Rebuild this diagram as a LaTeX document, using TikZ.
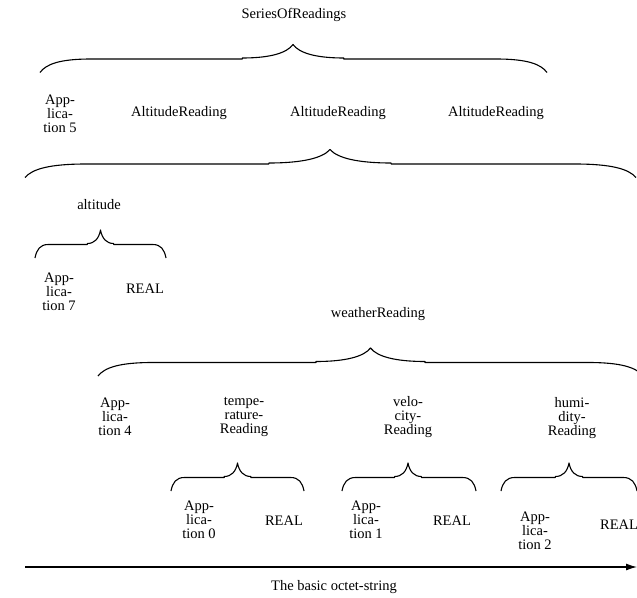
\documentclass[tikz,border=0pt]{standalone}
\usepackage{fontspec}
\setmainfont{Liberation Serif}
\usetikzlibrary{arrows.meta}
\tikzset{
  lbl/.style={inner sep=0pt, align=center, font=\fontsize{14.5}{14}\selectfont},
  bracestyle/.style={line width=1.1pt, line join=round},
  basearrow/.style={line width=1.2pt, -{Latex[length=11pt,width=7pt]}}
}
\newcommand{\drawmybrace}[4]{%
  \pgfmathsetmacro{\bw}{0.1*(#2-#1)}%
  \draw[bracestyle] (#1,#4+13.5)
    .. controls ({#1+0.12*\bw},#4+5) and ({#1+0.4*\bw},#4) .. ({#1+\bw},#4)
    -- ({#3-\bw},#4) -- ({#3-\bw},#4-1)
    .. controls ({#3-0.45*\bw},#4-1) and ({#3-0.12*\bw},#4-6) .. (#3,#4-14.5)
    .. controls ({#3+0.12*\bw},#4-6) and ({#3+0.45*\bw},#4-1) .. ({#3+\bw},#4-1)
    -- ({#3+\bw},#4) -- ({#2-\bw},#4)
    .. controls ({#2-0.4*\bw},#4) and ({#2-0.12*\bw},#4+5) .. (#2,#4+13.5);%
}
\begin{document}
\begin{tikzpicture}[x=1pt,y=-1pt]
\useasboundingbox (0,0) rectangle (637,597);
\clip (0,0) rectangle (637,597);
% braces
\drawmybrace{40}{547}{293}{59}
\drawmybrace{25}{636}{330}{164}
\drawmybrace{35}{166}{100.5}{244.5}
\drawmybrace{98}{643}{370.5}{362.5}
\drawmybrace{171}{304}{237.5}{477.5}
\drawmybrace{342}{476}{408}{477.5}
\drawmybrace{501}{637}{569}{477.5}
% labels
\node[lbl] (sor) at (294,15) {SeriesOfReadings};
\node[lbl] (app5) at (60,113.5) {App-\\lica-\\tion 5};
\node[lbl] (alt1) at (179,113) {AltitudeReading};
\node[lbl] (alt2) at (338,113) {AltitudeReading};
\node[lbl] (alt3) at (496,113) {AltitudeReading};
\node[lbl] (altitude) at (99,205) {altitude};
\node[lbl] (app7) at (59,292) {App-\\lica-\\tion 7};
\node[lbl] (real7) at (145,289) {REAL};
\node[lbl] (weather) at (378,314) {weatherReading};
\node[lbl] (app4) at (115,416.5) {App-\\lica-\\tion 4};
\node[lbl] (temp) at (244,417) {tempe-\\rature-\\Reading};
\node[lbl] (velo) at (408,417) {velo-\\city-\\Reading};
\node[lbl] (humi) at (572,418) {humi-\\dity-\\Reading};
\node[lbl] (app0) at (199,520) {App-\\lica-\\tion 0};
\node[lbl] (real0) at (284,521) {REAL};
\node[lbl] (app1) at (366,520) {App-\\lica-\\tion 1};
\node[lbl] (real1) at (452,521) {REAL};
\node[lbl] (app2) at (535,531) {App-\\lica-\\tion 2};
\node[lbl] (real2) at (619,525) {REAL};
\node[lbl] (octet) at (334,587) {The basic octet-string};
% base arrow
\coordinate (arrS) at (25,567);
\coordinate (arrE) at (637,567);
\draw[basearrow] (arrS) -- (arrE);
\end{tikzpicture}
\end{document}
